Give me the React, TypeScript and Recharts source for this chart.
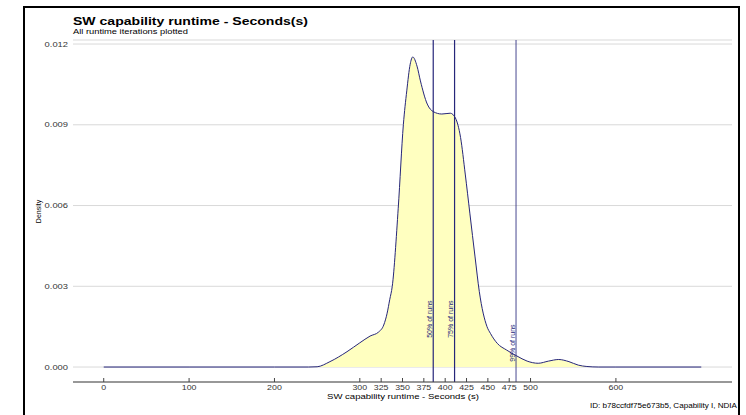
import {
  ComposedChart,
  Area,
  XAxis,
  YAxis,
  CartesianGrid,
  ReferenceLine,
  ReferenceDot,
} from 'recharts';

// density estimate
const runtime = [
  0, 100, 200, 240, 250, 265, 285, 300, 312, 322, 328, 332, 335, 338, 345, 351,
  355, 359, 362, 367, 371, 379, 386, 396, 406, 412, 418, 423.5, 429, 435, 440,
  449, 453, 461, 472, 484, 496, 509, 521, 533, 545, 556, 566, 580, 600, 700,
];
const density = [
  0, 0, 0, 0, 0.00001, 0.0002, 0.00057, 0.0009, 0.00115, 0.0013, 0.00156,
  0.002, 0.0025, 0.003, 0.0059, 0.009, 0.01026, 0.01125, 0.01152, 0.01118,
  0.01063, 0.00977, 0.00949, 0.0094, 0.00943, 0.00925, 0.00853, 0.00717,
  0.00569, 0.00409, 0.0028, 0.0015, 0.00125, 0.00088, 0.00063, 0.00041,
  0.00022, 0.00014, 0.00022, 0.00028, 0.0002, 0.00007, 0.00002, 0, 0, 0,
];

const xTicks = [0, 100, 200, 300, 325, 350, 375, 400, 425, 450, 475, 500, 600];
const yTicks = [0, 0.003, 0.006, 0.009, 0.012];

const runMarks = [386, 411, 483];
const runLabels = ['50% of runs', '75% of runs', '99% of runs'];
const labelHeights = [0.00178, 0.00178, 0.00089];

const data = runtime.map((r, i) => ({ runtime: r, density: density[i] }));

const NAVY = '#26267a';
const FONT = '"Liberation Sans", Arial, sans-serif';
// the reference image is stretched sideways, so is its text
const STRETCH = 1.3;

const XTick = (props: any) => {
  const { x, y, payload } = props;
  return (
    <g>
      <line x1={x} x2={x} y1={y - 8} y2={y - 4} stroke="#444" />
      <text
        transform={`translate(${x} ${y - 1}) scale(${STRETCH} 1)`}
        x={0}
        y={0}
        dy="0.71em"
        textAnchor="middle"
        fontSize={6.8}
        fontFamily={FONT}
        fill="#333"
      >
        {payload.value}
      </text>
    </g>
  );
};

const YTick = (props: any) => {
  const { x, y, payload } = props;
  return (
    <text
      transform={`translate(${x} ${y}) scale(${STRETCH} 1)`}
      x={0}
      y={0}
      dy="0.355em"
      textAnchor="end"
      fontSize={7.2}
      fontFamily={FONT}
      fill="#333"
    >
      {payload.value.toFixed(3)}
    </text>
  );
};

const RunLabel = (props: any) => {
  const { viewBox, text } = props;
  const x = viewBox.x - 1.5;
  const y = viewBox.y;
  return (
    <text
      x={x}
      y={y}
      transform={`rotate(-90 ${x} ${y})`}
      textAnchor="middle"
      fontSize={7}
      fontFamily={FONT}
      fill={NAVY}
    >
      {text}
    </text>
  );
};

export default function App() {
  return (
    <div
      style={{
        position: 'absolute',
        left: 0,
        top: 0,
        width: 746,
        height: 415,
        background: '#fff',
        overflow: 'hidden',
      }}
    >
      <div
        style={{
          position: 'absolute',
          left: 23,
          top: 6,
          width: 713,
          height: 420,
          borderLeft: '2px solid #000',
          borderTop: '2px solid #000',
          borderRight: '2px solid #000',
        }}
      />
      <div style={{ position: 'absolute', left: 0, top: 0 }}>
        <ComposedChart
          width={746}
          height={415}
          data={data}
          margin={{ top: 40, right: 14, bottom: 0, left: 0 }}
        >
          <CartesianGrid vertical={false} stroke="#d9d9d9" />
          <XAxis
            dataKey="runtime"
            type="number"
            domain={[-36, 736]}
            ticks={xTicks}
            allowDataOverflow
            height={33}
            tickSize={4}
            tickMargin={0}
            tickLine={false}
            axisLine={{ stroke: '#444' }}
            tick={<XTick />}
            interval={0}
          />
          <YAxis
            type="number"
            domain={[-0.000556, 0.01215]}
            ticks={yTicks}
            allowDataOverflow
            width={73}
            tickSize={3}
            tickMargin={2}
            tickLine={false}
            axisLine={false}
            tick={<YTick />}
            interval={0}
          />
          <Area
            type="monotone"
            dataKey="density"
            stroke={NAVY}
            strokeWidth={1}
            fill="#ffffc0"
            fillOpacity={1}
            baseValue={0}
            dot={false}
            activeDot={false}
            isAnimationActive={false}
          />
          {runMarks.map((m, i) => (
            <ReferenceLine
              key={`l${i}`}
              x={m}
              stroke={NAVY}
              strokeOpacity={i === 2 ? 0.7 : 1}
              strokeWidth={1.2}
            />
          ))}
          {runMarks.map((m, i) => (
            <ReferenceDot
              key={`d${i}`}
              x={m}
              y={labelHeights[i]}
              r={0}
              fill="none"
              stroke="none"
              label={(p: any) => <RunLabel {...p} text={runLabels[i]} />}
            />
          ))}
        </ComposedChart>
      </div>
      <svg
        width={746}
        height={415}
        style={{ position: 'absolute', left: 0, top: 0, pointerEvents: 'none' }}
        fontFamily={FONT}
      >
        <text
          x={73}
          y={25}
          fontSize={11}
          fontWeight="bold"
          fill="#000"
          textLength={235}
          lengthAdjust="spacingAndGlyphs"
        >
          SW capability runtime - Seconds(s)
        </text>
        <text
          x={73}
          y={34}
          fontSize={7.2}
          fill="#000"
          textLength={115}
          lengthAdjust="spacingAndGlyphs"
        >
          All runtime iterations plotted
        </text>
        <text
          x={40.5}
          y={211.5}
          transform="rotate(-90 40.5 211.5)"
          textAnchor="middle"
          fontSize={7}
          fill="#000"
        >
          Density
        </text>
        <text
          x={327}
          y={399}
          fontSize={7.2}
          fill="#000"
          textLength={152}
          lengthAdjust="spacingAndGlyphs"
        >
          SW capability runtime - Seconds (s)
        </text>
        <text
          x={590}
          y={408}
          fontSize={6.8}
          fill="#000"
          textLength={147}
          lengthAdjust="spacingAndGlyphs"
        >
          ID: b78ccfdf75e673b5, Capability I, NDIA
        </text>
      </svg>
    </div>
  );
}
